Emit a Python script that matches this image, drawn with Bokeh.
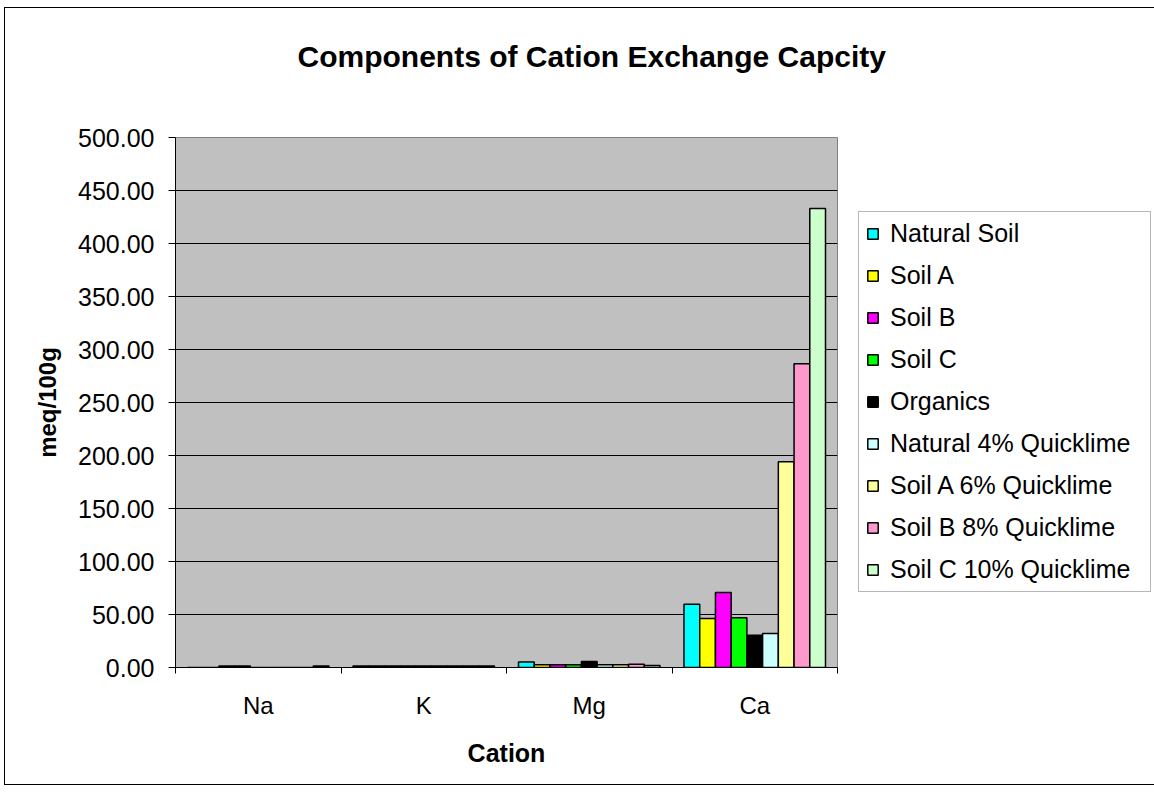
import numpy as np
from bokeh.plotting import figure
from bokeh.models import (ColumnDataSource, FixedTicker, NumeralTickFormatter, Legend,
                          LegendItem, Range1d, Title)
from bokeh.embed import file_html
from bokeh.resources import INLINE

cations = ["Na", "K", "Mg", "Ca"]
series = ["Natural Soil", "Soil A", "Soil B", "Soil C", "Organics",
          "Natural 4% Quicklime", "Soil A 6% Quicklime", "Soil B 8% Quicklime",
          "Soil C 10% Quicklime"]
colors = ["#00FFFF", "#FFFF00", "#FF00FF", "#00FF00", "#000000",
          "#CCFFFF", "#FFFF99", "#FF99CC", "#CCFFCC"]

natural_soil = [0.0, 1.5, 5.3, 59.7]
soil_a = [0.0, 1.5, 2.5, 46.2]
soil_b = [1.5, 1.5, 2.5, 70.8]
soil_c = [1.5, 1.5, 2.5, 46.9]
organics = [0.0, 1.5, 5.7, 30.5]
natural_4 = [0.0, 1.5, 2.5, 32.0]
soil_a_6 = [0.0, 1.5, 2.5, 194.0]
soil_b_8 = [0.0, 1.5, 3.0, 286.5]
soil_c_10 = [1.5, 1.5, 1.9, 433.0]
values = [natural_soil, soil_a, soil_b, soil_c, organics, natural_4,
          soil_a_6, soil_b_8, soil_c_10]

y_ticks = [0, 50, 100, 150, 200, 250, 300, 350, 400, 450, 500]
title_text = "Components of Cation Exchange Capcity"

FONT = "Liberation Sans"
bar_w = 0.095

p = figure(title=None, frame_width=662, frame_height=530, output_backend="svg",
           toolbar_location=None,
           x_range=Range1d(0, len(cations)), y_range=Range1d(0, 500),
           min_border_left=170, min_border_right=312, min_border_top=129,
           min_border_bottom=117, background_fill_color="#C0C0C0",
           border_fill_color="white", outline_line_color="#808080")
p.styles = {"margin-left": "4px", "margin-top": "7px", "border": "1px solid #000000"}

centers = np.arange(len(cations)) + 0.5
n = len(series)
items = []
for i, (name, col, vals) in enumerate(zip(series, colors, values)):
    src = ColumnDataSource(dict(x=centers + (i - (n - 1) / 2) * bar_w, top=vals))
    r = p.vbar(x="x", top="top", width=bar_w, bottom=0, source=src,
               fill_color=col, line_color="black", line_width=1.5)
    items.append(LegendItem(label=name, renderers=[r]))

# spacer between title and frame, then the title itself
spacer = Title(text=" ", text_font=FONT, text_font_size="30px",
               text_font_style="bold", standoff=30, align="left")
p.add_layout(spacer, "above")
main_title = Title(text=title_text, text_font=FONT, text_font_size="30px",
                   text_font_style="bold", text_color="black", align="left",
                   offset=122, standoff=0)
p.add_layout(main_title, "above")

# x axis
p.xaxis.ticker = FixedTicker(ticks=list(centers),
                             minor_ticks=list(np.arange(len(cations) + 1)))
p.xaxis.major_label_overrides = {float(c): lab for c, lab in zip(centers, cations)}
p.xaxis.major_tick_out = 0
p.xaxis.major_tick_in = 0
p.xaxis.minor_tick_out = 6
p.xaxis.minor_tick_in = 0
p.xaxis.minor_tick_line_color = "black"
p.xaxis.axis_line_color = "black"
p.xaxis.major_label_text_font = FONT
p.xaxis.major_label_text_font_size = "24px"
p.xaxis.major_label_text_color = "black"
p.xaxis.major_label_standoff = 18
p.xaxis.axis_label = "Cation"
p.xaxis.axis_label_text_font = FONT
p.xaxis.axis_label_text_font_size = "25px"
p.xaxis.axis_label_text_font_style = "bold"
p.xaxis.axis_label_text_color = "black"
p.xaxis.axis_label_standoff = 17
p.xgrid.visible = False

# y axis
p.yaxis.ticker = FixedTicker(ticks=y_ticks)
p.yaxis.formatter = NumeralTickFormatter(format="0.00")
p.yaxis.major_tick_out = 7
p.yaxis.major_tick_in = 0
p.yaxis.minor_tick_line_color = None
p.yaxis.axis_line_color = "black"
p.yaxis.major_label_text_font = FONT
p.yaxis.major_label_text_font_size = "25px"
p.yaxis.major_label_text_color = "black"
p.yaxis.major_label_standoff = 14
p.yaxis.axis_label = "meq/100g"
p.yaxis.axis_label_text_font = FONT
p.yaxis.axis_label_text_font_size = "24px"
p.yaxis.axis_label_text_font_style = "bold"
p.yaxis.axis_label_text_color = "black"
p.yaxis.axis_label_standoff = 14
p.ygrid.grid_line_color = "black"
p.ygrid.grid_line_width = 1

legend = Legend(items=items, location=(21, 75))
legend.margin = 0
legend.padding = 7
legend.spacing = 13
legend.label_height = 24
legend.label_width = 253
legend.glyph_height = 13
legend.glyph_width = 13
legend.label_standoff = 11
legend.label_text_font = FONT
legend.label_text_font_size = "25px"
legend.label_text_color = "black"
legend.border_line_color = "#707070"
legend.border_line_width = 1
legend.background_fill_color = "white"
legend.background_fill_alpha = 1
p.add_layout(legend, "right")

open("out.html", "w").write(file_html(p, INLINE))
